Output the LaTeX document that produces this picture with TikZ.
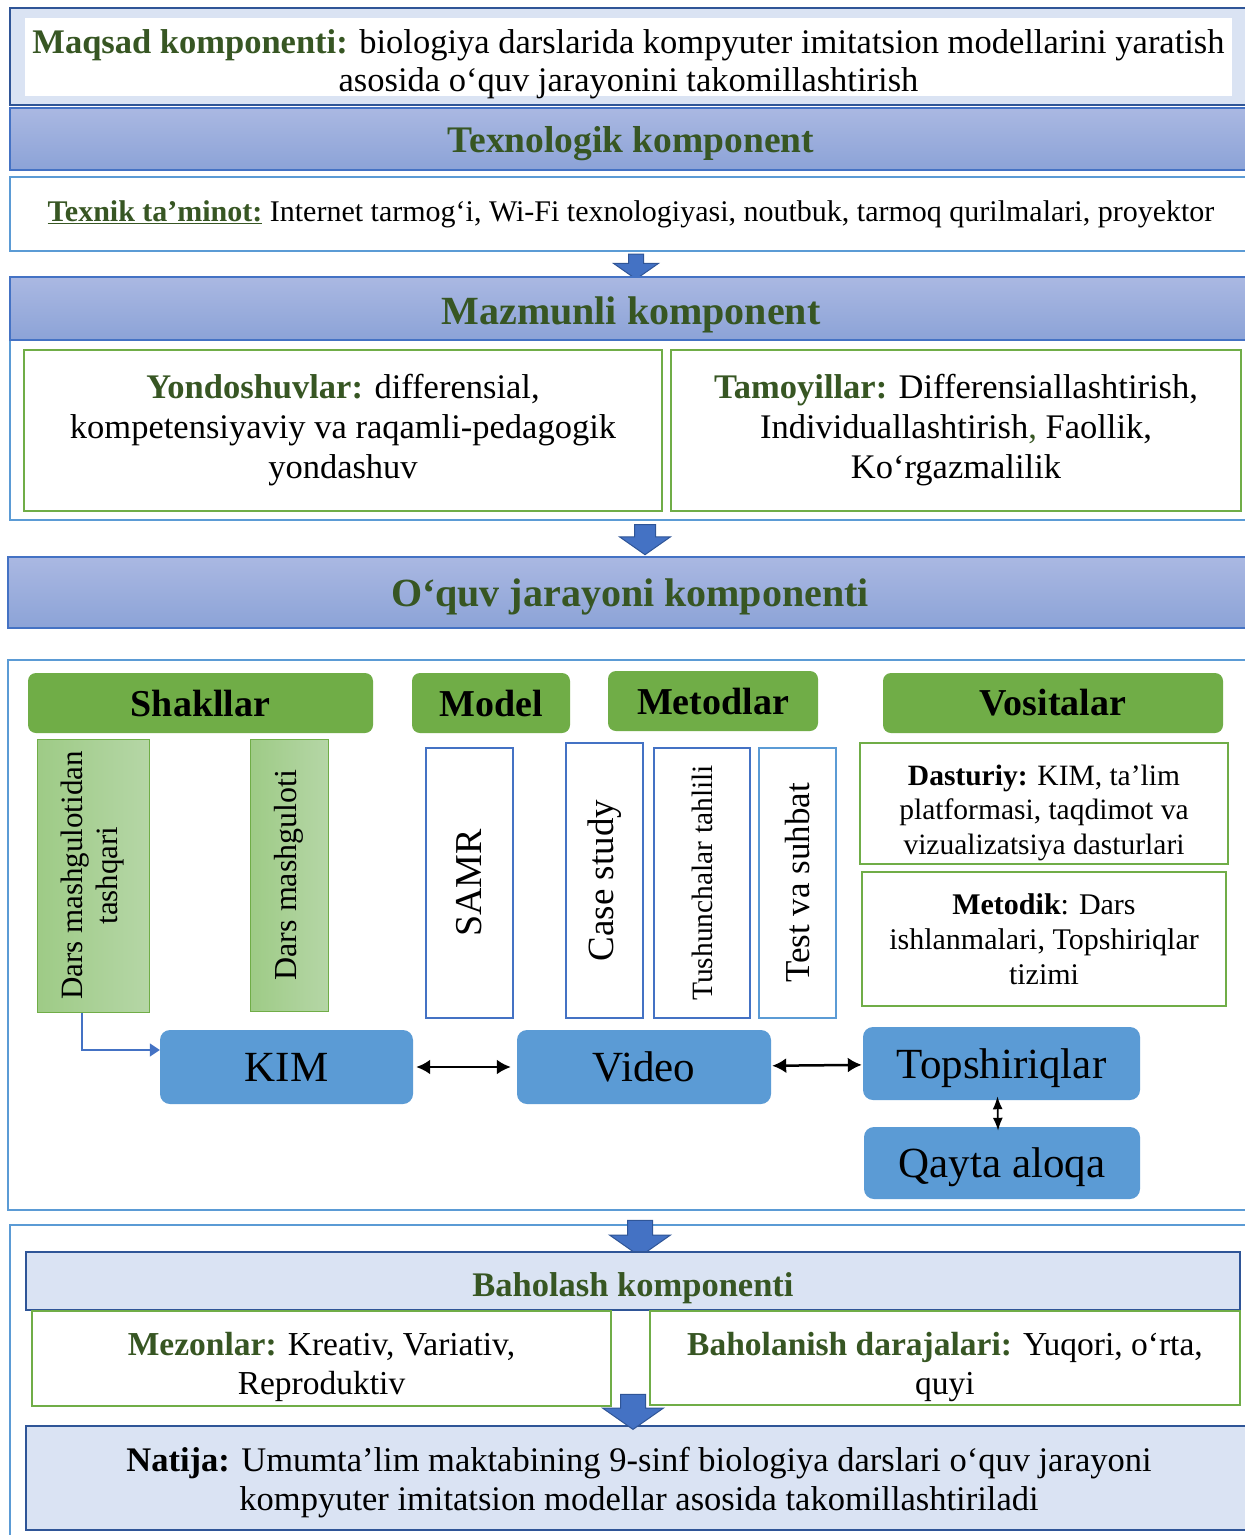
\documentclass[tikz,border=0pt]{standalone}
\usepackage{fontspec}
\setmainfont{Liberation Serif}
\usetikzlibrary{positioning, shapes.arrows, arrows.meta}

\definecolor{tgreen}{HTML}{375623}
\definecolor{hgreen}{HTML}{70AD47}
\definecolor{kblue}{HTML}{5B9BD5}
\definecolor{dblue}{HTML}{4472C4}
\definecolor{nblue}{HTML}{2F5597}
\definecolor{lblue}{HTML}{DAE3F3}
\definecolor{bartop}{HTML}{AAB8E2}
\definecolor{barbot}{HTML}{8CA3D7}
\definecolor{ltgreen}{HTML}{B5D6A6}
\definecolor{mdgreen}{HTML}{9ECB86}

\tikzset{
  bar/.style={draw=dblue, line width=1.5pt, top color=bartop, bottom color=barbot, text=tgreen, text depth=0pt},
  lbox/.style={draw=nblue, line width=2pt, fill=lblue, align=center},
  cframe/.style={draw=kblue, line width=2pt, fill=white},
  gbox/.style={draw=hgreen, line width=2.5pt, fill=white, align=center},
  txt/.style={align=center, inner sep=0pt},
  headbox/.style={fill=hgreen, rounded corners=8pt, font=\bfseries\fontsize{38}{42}\selectfont},
  vbox/.style={draw=dblue, line width=2pt, fill=white, rotate=90, align=center},
  sbox/.style={draw=hgreen, line width=1pt, right color=ltgreen, left color=mdgreen, rotate=90, align=center},
  rbox/.style={fill=kblue, rounded corners=10pt, font=\fontsize{43}{46}\selectfont},
  blockarr/.style={single arrow, fill=dblue, draw=nblue, line width=1pt, shape border rotate=270, single arrow tip angle=110},
  twohead/.style={{Latex[length=14pt,width=15pt]}-{Latex[length=14pt,width=15pt]}, line width=2.5pt},
}

\begin{document}
\begin{tikzpicture}[x=1pt,y=-1pt]
\useasboundingbox (0,0) rectangle (1245,1535);

\node[lbox, minimum width=1242, minimum height=97](maqsadbg) at (631,56.5) {};
\node[fill=white, minimum width=1207, minimum height=78](maqsadbox) at (628.5,57) {};
\node[txt, font=\fontsize{34.5}{38}\selectfont](maqsad) at (628.5,64) {\textcolor{tgreen}{\textbf{Maqsad komponenti:}} biologiya darslarida kompyuter imitatsion modellarini yaratish\\asosida o‘quv jarayonini takomillashtirish};

\node[bar, minimum width=1242, minimum height=62, font=\bfseries\fontsize{37.5}{40}\selectfont](texno) at (631,139) {Texnologik komponent};
\node[cframe, minimum width=1242, minimum height=74, font=\fontsize{30}{34}\selectfont](texnik) at (631,214) {\textcolor{tgreen}{\underline{\textbf{Texnik ta’minot:}}} Internet tarmog‘i, Wi-Fi texnologiyasi, noutbuk, tarmoq qurilmalari, proyektor};
\node[blockarr, minimum height=25, inner sep=7, single arrow head extend=15](ar1) at (636,264) {};

\node[cframe, minimum width=1242, minimum height=180](mazbg) at (631,430) {};
\node[bar, minimum width=1242, minimum height=63, text height=31pt, font=\bfseries\fontsize{40}{44}\selectfont](mazmun) at (631,308.5) {Mazmunli komponent};
\node[gbox, minimum width=638, minimum height=161, font=\fontsize{34.5}{40}\selectfont](yond) at (343,430.5) {\textcolor{tgreen}{\textbf{Yondoshuvlar:}} differensial,\\kompetensiyaviy va raqamli-pedagogik\\yondashuv};
\node[gbox, minimum width=570, minimum height=161, font=\fontsize{34.5}{40}\selectfont](tamoy) at (956,430.5) {\textcolor{tgreen}{\textbf{Tamoyillar:}} Differensiallashtirish,\\Individuallashtirish\textcolor{tgreen}{,} Faollik,\\Ko‘rgazmalilik};
\node[blockarr, minimum height=30, inner sep=10, single arrow head extend=15](ar2) at (645,536) {};

\node[bar, minimum width=1244, minimum height=71, font=\bfseries\fontsize{40}{44}\selectfont](oquv) at (630,592.5) {O‘quv jarayoni komponenti};

\node[cframe, minimum width=1244, minimum height=550](oquvbg) at (630,935) {};
\node[headbox, minimum width=345, minimum height=60](shakl) at (200.5,703) {Shakllar};
\node[headbox, minimum width=158, minimum height=60](model) at (491,703) {Model};
\node[headbox, minimum width=210, minimum height=60](metod) at (713,701) {Metodlar};
\node[headbox, minimum width=340, minimum height=60](vosita) at (1053,703) {Vositalar};

\node[sbox, minimum width=273, minimum height=112, font=\fontsize{31}{35}\selectfont](dmt) at (93,875.5) {Dars mashgulotidan\\tashqari};
\node[sbox, minimum width=272, minimum height=78, font=\fontsize{32}{36}\selectfont](dm) at (289,875) {Dars mashguloti};
\node[vbox, minimum width=270, minimum height=87, font=\fontsize{38}{42}\selectfont](samr) at (469.5,883) {SAMR};
\node[vbox, minimum width=275, minimum height=77, font=\fontsize{37}{40}\selectfont](cs) at (604.5,880.5) {Case study};
\node[vbox, minimum width=270, minimum height=96, font=\fontsize{29.5}{32}\selectfont](tt) at (702,883) {Tushunchalar tahlili};
\node[vbox, draw=kblue, minimum width=270, minimum height=77, font=\fontsize{35}{38}\selectfont](tvs) at (797.5,883) {Test va suhbat};

\node[gbox, minimum width=368, minimum height=121](dasturbg) at (1044,803.5) {};
\node[txt, font=\fontsize{29.5}{34.5}\selectfont](dastur) at (1044,812.5) {\textbf{Dasturiy:} KIM, ta’lim\\platformasi, taqdimot va\\vizualizatsiya dasturlari};
\node[gbox, minimum width=364, minimum height=134, font=\fontsize{30}{35}\selectfont](metodik) at (1044,939) {\textbf{Metodik}: Dars\\ishlanmalari, Topshiriqlar\\tizimi};

\node[rbox, minimum width=253, minimum height=74](kim) at (286.5,1067) {KIM};
\node[rbox, minimum width=254, minimum height=74](video) at (644,1067) {Video};
\node[rbox, minimum width=277, minimum height=73, text depth=0pt](topsh) at (1001.5,1063.5) {Topshiriqlar};
\node[rbox, minimum width=276, minimum height=72, text depth=0pt](qayta) at (1002,1163) {Qayta aloqa};

\draw[dblue, line width=1.2pt, -{Triangle[length=10pt,width=13pt]}] ([xshift=-11pt]dmt.west) |- ([yshift=17pt]kim.west);
\draw[twohead, shorten <=3pt, shorten >=6pt] (kim) -- (video);
\draw[twohead, shorten <=1pt, shorten >=1pt] (video) -- (topsh);
\draw[{Latex[length=13pt,width=10pt]}-{Latex[length=13pt,width=10pt]}, line width=1.8pt, shorten <=-4pt, shorten >=-4pt] ([xshift=-4pt]topsh.south) -- ([xshift=-4pt]qayta.north);

\node[cframe, minimum width=1242, minimum height=320](bahobg) at (631,1385) {};
\node[blockarr, minimum height=36, inner sep=12, single arrow head extend=18](ar3) at (640,1234) {};
\node[lbox, line width=2.5pt, minimum width=1214, minimum height=58, text=tgreen, text height=30pt, text depth=0pt, font=\bfseries\fontsize{34.5}{38}\selectfont](baho) at (633,1281) {Baholash komponenti};
\node[gbox, minimum width=579, minimum height=95](mezonbg) at (321.5,1358.5) {};
\node[txt, font=\fontsize{33.5}{39}\selectfont](mezon) at (321.5,1367) {\textcolor{tgreen}{\textbf{Mezonlar:}} Kreativ, Variativ,\\Reproduktiv};
\node[gbox, minimum width=590, minimum height=94](darajabg) at (945,1358) {};
\node[txt, font=\fontsize{33.5}{39}\selectfont](daraja) at (945,1367) {\textcolor{tgreen}{\textbf{Baholanish darajalari:}} Yuqori, o‘rta,\\quyi};
\node[lbox, line width=2.5pt, minimum width=1226, minimum height=104](natijabg) at (639,1478) {};
\node[txt, font=\fontsize{34.5}{39}\selectfont](natija) at (639,1483) {\textbf{Natija:} Umumta’lim maktabining 9-sinf biologiya darslari o‘quv jarayoni\\kompyuter imitatsion modellar asosida takomillashtiriladi};
\node[blockarr, minimum height=35, inner sep=12, single arrow head extend=18](ar4) at (633,1407.5) {};
\end{tikzpicture}
\end{document}
